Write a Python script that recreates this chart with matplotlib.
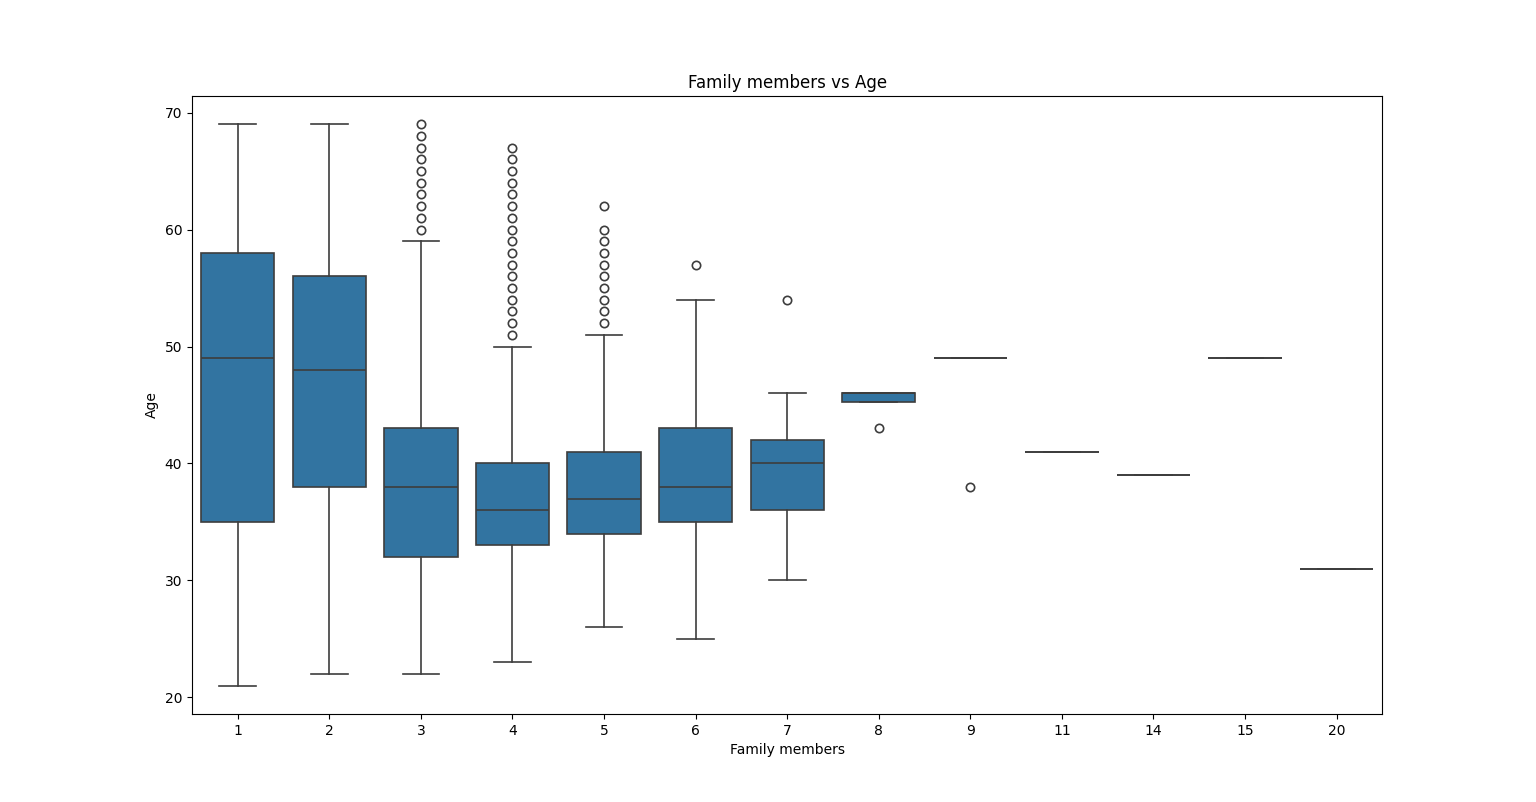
import matplotlib
matplotlib.use("Agg")
import matplotlib.pyplot as plt

groups = ["1", "2", "3", "4", "5", "6", "7", "8", "9", "11", "14", "15", "20"]
whislo = [21, 22, 22, 23, 26, 25, 30, 45.25, 49, 41, 39, 49, 31]
q1 = [35, 38, 32, 33, 34, 35, 36, 45.25, 49, 41, 39, 49, 31]
med = [49, 48, 38, 36, 37, 38, 40, 46, 49, 41, 39, 49, 31]
q3 = [58, 56, 43, 40, 41, 43, 42, 46, 49, 41, 39, 49, 31]
whishi = [69, 69, 59, 50, 51, 54, 46, 46, 49, 41, 39, 49, 31]
fliers = [
    [],
    [],
    [60, 61, 62, 63, 64, 65, 66, 67, 68, 69],
    [51, 52, 53, 54, 55, 56, 57, 58, 59, 60, 61, 62, 63, 64, 65, 66, 67],
    [52, 53, 54, 55, 56, 57, 58, 59, 60, 62],
    [57],
    [54],
    [43],
    [38],
    [],
    [],
    [],
    [],
]

stats = []
for i, g in enumerate(groups):
    stats.append(dict(label=g, whislo=whislo[i], q1=q1[i], med=med[i],
                      q3=q3[i], whishi=whishi[i], fliers=fliers[i]))

fig, ax = plt.subplots(figsize=(15.36, 8.02), dpi=100)
line_c = "#3d3d3d"
lw = 1.2
positions = list(range(len(groups)))
ax.bxp(stats, positions=positions, widths=0.8, patch_artist=True,
       capwidths=0.4,
       boxprops=dict(facecolor="#3274a1", edgecolor=line_c, linewidth=lw),
       medianprops=dict(color=line_c, linewidth=lw),
       whiskerprops=dict(color=line_c, linewidth=lw),
       capprops=dict(color=line_c, linewidth=lw),
       flierprops=dict(marker="o", markerfacecolor="none",
                       markeredgecolor=line_c, markersize=6, markeredgewidth=lw))
ax.set_xlim(-0.5, len(groups) - 0.5)
ax.set_xticks(positions)
ax.set_xticklabels(groups)
ax.set_title("Family members vs Age")
ax.set_xlabel("Family members")
ax.set_ylabel("Age")
fig.savefig("out.png", dpi=100)
